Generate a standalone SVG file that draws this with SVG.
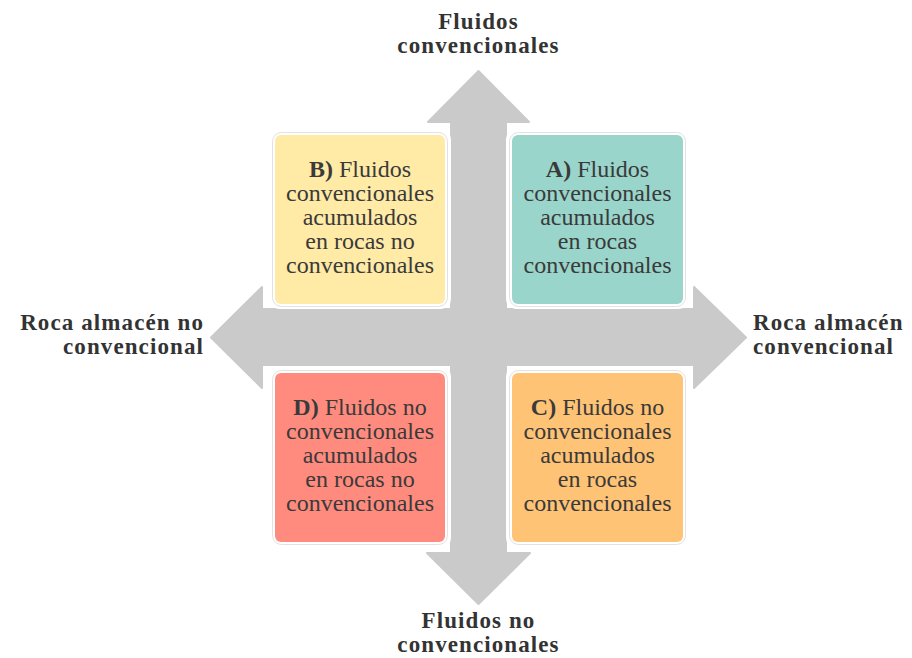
<svg xmlns="http://www.w3.org/2000/svg" width="912" height="658" viewBox="0 0 912 658">
<style>
.lbl{font-family:"Liberation Serif","Times New Roman",serif;font-weight:bold;font-size:23px;letter-spacing:1.1px;fill:#333333}
.bt{font-family:"Liberation Serif","Times New Roman",serif;font-size:24px;fill:#3a3a3a;text-anchor:middle}
.bt tspan.b{font-weight:bold}
.pad{fill:#ffffff}
.out{fill:#ffffff;stroke:#e2e2e2;stroke-width:1}
</style>
<rect width="912" height="658" fill="#ffffff"/>
<g id="connectors">
<path d="M478.5,71 L529,122 L506,122 L506,309 L694,309 L694,287 L746,337.5 L694,388 L694,365 L506,365 L506,553 L530,553 L478.5,604 L427,553 L451,553 L451,365 L262,365 L262,388 L211,337.5 L262,287 L262,309 L451,309 L451,122 L428,122 Z" fill="#cacaca" stroke="#cacaca" stroke-width="2" stroke-linejoin="round"/>
</g>
<g id="label-top">
<text class="lbl" text-anchor="middle"><tspan x="478.5" y="29">Fluidos</tspan><tspan x="478.5" y="53">convencionales</tspan></text>
</g>
<g id="label-bottom">
<text class="lbl" text-anchor="middle"><tspan x="478.5" y="628">Fluidos no</tspan><tspan x="478.5" y="652">convencionales</tspan></text>
</g>
<g id="label-left">
<text class="lbl" text-anchor="end"><tspan x="204" y="330">Roca almacén no</tspan><tspan x="204" y="354">convencional</tspan></text>
</g>
<g id="label-right">
<text class="lbl" text-anchor="start"><tspan x="753" y="330">Roca almacén</tspan><tspan x="753" y="354">convencional</tspan></text>
</g>
<g id="box-b">
<rect class="pad" x="269" y="129" width="182" height="180" rx="10"/>
<rect class="out" x="272.5" y="132.5" width="175" height="174" rx="9"/>
<rect x="275" y="135" width="170" height="169" rx="6" fill="#ffeaa6"/>
<text class="bt"><tspan x="360" y="177"><tspan class="b">B)</tspan> Fluidos</tspan><tspan x="360" y="201">convencionales</tspan><tspan x="360" y="225">acumulados</tspan><tspan x="360" y="249">en rocas no</tspan><tspan x="360" y="273">convencionales</tspan></text>
</g>
<g id="box-a">
<rect class="pad" x="506" y="129" width="183" height="180" rx="10"/>
<rect class="out" x="509.5" y="132.5" width="176" height="174" rx="9"/>
<rect x="512" y="135" width="171" height="169" rx="6" fill="#99d5ca"/>
<text class="bt"><tspan x="597.5" y="177"><tspan class="b">A)</tspan> Fluidos</tspan><tspan x="597.5" y="201">convencionales</tspan><tspan x="597.5" y="225">acumulados</tspan><tspan x="597.5" y="249">en rocas</tspan><tspan x="597.5" y="273">convencionales</tspan></text>
</g>
<g id="box-d">
<rect class="pad" x="269" y="366" width="182" height="182" rx="10"/>
<rect class="out" x="272.5" y="370.5" width="175" height="174" rx="9"/>
<rect x="275" y="373" width="170" height="169" rx="6" fill="#ff8b7e"/>
<text class="bt"><tspan x="360" y="415"><tspan class="b">D)</tspan> Fluidos no</tspan><tspan x="360" y="439">convencionales</tspan><tspan x="360" y="463">acumulados</tspan><tspan x="360" y="487">en rocas no</tspan><tspan x="360" y="511">convencionales</tspan></text>
</g>
<g id="box-c">
<rect class="pad" x="506" y="366" width="183" height="182" rx="10"/>
<rect class="out" x="509.5" y="370.5" width="176" height="174" rx="9"/>
<rect x="512" y="373" width="171" height="169" rx="6" fill="#ffc375"/>
<text class="bt"><tspan x="597.5" y="415"><tspan class="b">C)</tspan> Fluidos no</tspan><tspan x="597.5" y="439">convencionales</tspan><tspan x="597.5" y="463">acumulados</tspan><tspan x="597.5" y="487">en rocas</tspan><tspan x="597.5" y="511">convencionales</tspan></text>
</g>
</svg>
